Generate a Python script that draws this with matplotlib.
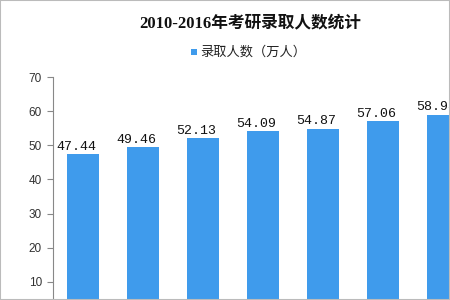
import matplotlib
matplotlib.use("Agg")
import matplotlib.pyplot as plt
from matplotlib.patches import Rectangle

plt.rcParams['font.family'] = ['Liberation Sans', 'Noto Sans CJK SC', 'DejaVu Sans']

years = ["2010", "2011", "2012", "2013", "2014", "2015", "2016"]
values = [47.44, 49.46, 52.13, 54.09, 54.87, 57.06, 58.98]
yticks = [10, 20, 30, 40, 50, 60, 70]
title = "2010-2016年考研录取人数统计"
series_name = "录取人数（万人）"
bar_color = "#3f9bec"

fig = plt.figure(figsize=(4.5, 3.0), dpi=100)
# axes extends past the figure edges (the reference image is cropped there)
ax = fig.add_axes([53/450, -16/300, 420/450, 239/300])

x = list(range(len(years)))
ax.bar(x, values, width=0.53, color=bar_color, zorder=2)
ax.set_xlim(-0.5, len(years) - 0.5)
ax.set_ylim(0, 70)
ax.set_yticks(yticks)
ax.set_yticklabels([str(t) for t in yticks], fontsize=8.5, color="#333333")
# year labels sit below the cropped bottom edge in the reference, so not drawn
ax.set_xticks(x)
ax.set_xticklabels([])
ax.tick_params(axis='y', length=4, width=0.8, color="#888888", pad=4)
ax.tick_params(axis='x', length=0)
for s in ['top', 'right']:
    ax.spines[s].set_visible(False)
ax.spines['left'].set_color("#888888")
ax.spines['left'].set_linewidth(0.8)
ax.spines['bottom'].set_color("#888888")

for xi, v in zip(x, values):
    ax.annotate(f"{v:.2f}", (xi, v), xytext=(-5, 1), textcoords='offset points',
                ha='center', va='bottom', fontsize=9.5,
                family=['Liberation Mono', 'DejaVu Sans Mono'], color="#111111")

fig.text(250/450, 1 - 23/300, title, ha='center', va='center', fontsize=12,
         fontweight='bold', family=['Liberation Serif', 'Noto Sans CJK SC'], color="#111111")
fig.text(200/450, 1 - 52/300, series_name, ha='left', va='center', fontsize=9.5,
         family=['Noto Sans CJK SC', 'DejaVu Sans'], color="#222222")
fig.patches.append(Rectangle((191/450, 1 - 55/300), 6/450, 6/300, transform=fig.transFigure,
                             facecolor=bar_color, edgecolor='none'))
fig.patches.append(Rectangle((0, 0), 1, 1, transform=fig.transFigure, fill=False,
                             edgecolor="#bbbbbb", linewidth=1.5))

fig.savefig("out.png", dpi=100)
